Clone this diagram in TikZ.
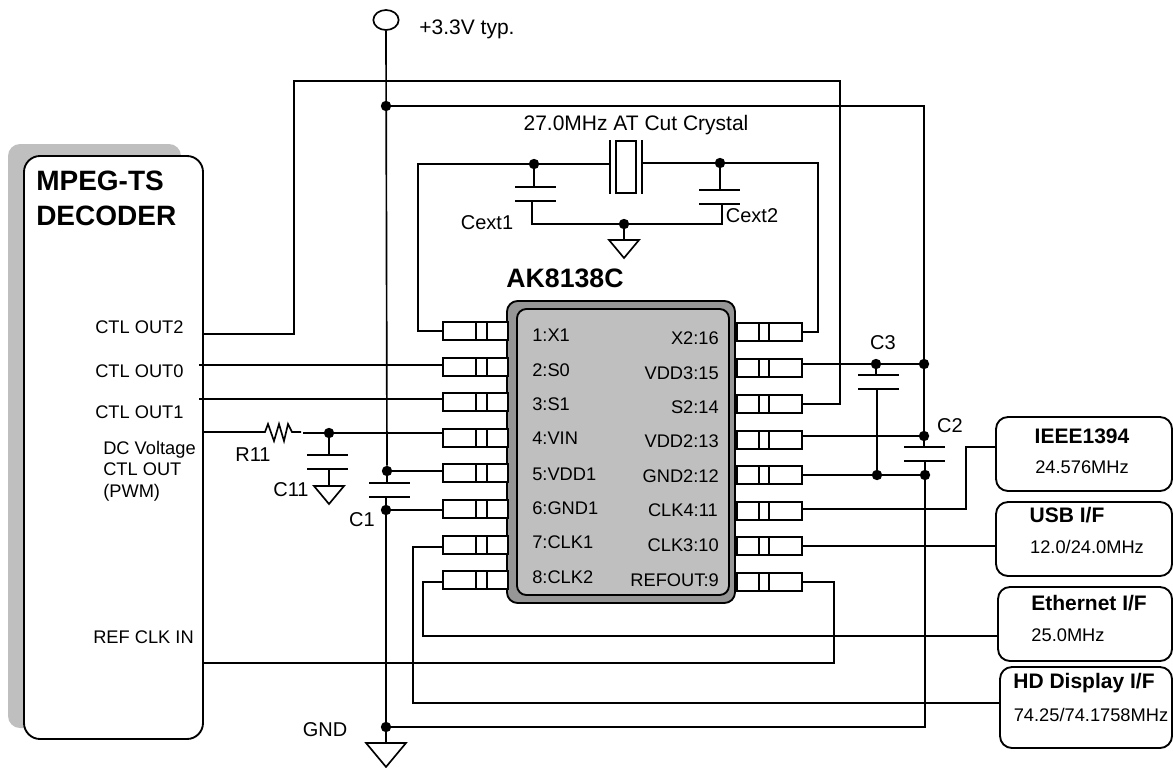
\documentclass[tikz,border=0pt]{standalone}
\usepackage{fontspec}
\setmainfont{Liberation Sans}
\usetikzlibrary{shapes.geometric}
\tikzset{draht/.style={line width=1.25pt}}
\tikzset{dick/.style={line width=1.7pt}}
\tikzset{punkt/.style={circle,fill=black,inner sep=0pt,minimum size=7.8pt}}
\tikzset{lab/.style={inner sep=0pt,font=\fontsize{15}{18}\selectfont}}
\tikzset{klein/.style={inner sep=0pt,font=\fontsize{13.7}{16}\selectfont}}
\tikzset{fett/.style={inner sep=0pt,font=\fontsize{15.75}{18}\selectfont\bfseries}}
\tikzset{gross/.style={inner sep=0pt,font=\fontsize{21}{26.25}\selectfont\bfseries}}
\tikzset{ifbox/.style={draw,line width=1.4pt,rounded corners=9pt,minimum height=55.5pt,inner sep=0pt}}
\tikzset{pinl/.style={draw,fill=white,line width=1.1pt,minimum width=48.75pt,minimum height=13.5pt,inner sep=0pt,
	path picture={\draw[line width=1.1pt] ([xshift=.4pt]path picture bounding box.south)--([xshift=.4pt]path picture bounding box.north);
	\draw[line width=1.1pt] ([xshift=8.6pt]path picture bounding box.south)--([xshift=8.6pt]path picture bounding box.north);}}}
\tikzset{pinr/.style={draw,fill=white,line width=1.1pt,minimum width=48.75pt,minimum height=13.5pt,inner sep=0pt,
	path picture={\draw[line width=1.1pt] ([xshift=-7.9pt]path picture bounding box.south)--([xshift=-7.9pt]path picture bounding box.north);
	\draw[line width=1.1pt] ([xshift=-.4pt]path picture bounding box.south)--([xshift=-.4pt]path picture bounding box.north);}}}
\tikzset{kond/.pic={\draw[draht] (-20,0)--(21,0);\draw[draht] (-20,14)--(21,14);}}
\tikzset{masse/.pic={\draw[draht] (-15,0)--(15,0)--(0,18)--cycle;}}
\begin{document}
\begin{tikzpicture}[x=0.75pt,y=-0.75pt]
	\useasboundingbox (0,0) rectangle (1173,767);

	% decoder
	\fill[gray!50!white,rounded corners=9pt] (8,144) rectangle (181,728);
	\node[draw,fill=white,line width=1.4pt,rounded corners=12pt,minimum width=134.25pt,minimum height=437.25pt,inner sep=0pt](mpeg) at (113.5,447.5){};
	\node[gross,align=left,anchor=north west](mpegtxt) at (36,171){MPEG-TS\\DECODER};
	\node[klein,anchor=west](ctl2) at (95,327){CTL OUT2};
	\node[klein,anchor=west](ctl0) at (95,371){CTL OUT0};
	\node[klein,anchor=west](ctl1) at (95,412){CTL OUT1};
	\node[klein,align=left,anchor=north west](ctldc) at (103,441){DC Voltage\\CTL OUT\\(PWM)};
	\node[klein,anchor=west](refin) at (93,637){REF CLK IN};

	% chip
	\node[draw,fill=black!41,line width=1.4pt,rounded corners=8pt,minimum width=171pt,minimum height=226.5pt,inner sep=0pt](chip) at (621,452){};
	\node[draw,fill=black!25,line width=1.4pt,rounded corners=7pt,minimum width=159pt,minimum height=214.5pt,inner sep=0pt](kern) at (623,452){};
	\node[gross,font=\fontsize{20}{24}\selectfont\bfseries](aktxt) at (565,278){AK8138C};

	\node[pinl](p1) at (475.5,331){};
	\node[pinl](p2) at (475.5,367){};
	\node[pinl](p3) at (475.5,402){};
	\node[pinl](p4) at (475.5,438){};
	\node[pinl](p5) at (475.5,473){};
	\node[pinl](p6) at (475.5,509){};
	\node[pinl](p7) at (475.5,545){};
	\node[pinl](p8) at (475.5,580){};
	\node[pinr](p16) at (769.5,332){};
	\node[pinr](p15) at (769.5,368){};
	\node[pinr](p14) at (769.5,404){};
	\node[pinr](p13) at (769.5,440){};
	\node[pinr](p12) at (769.5,475){};
	\node[pinr](p11) at (769.5,511){};
	\node[pinr](p10) at (769.5,546){};
	\node[pinr](p9) at (769.5,582){};

	\node[klein,anchor=west](n1) at (532,335){1:X1};
	\node[klein,anchor=west](n2) at (532,370){2:S0};
	\node[klein,anchor=west](n3) at (532,404){3:S1};
	\node[klein,anchor=west](n4) at (532,438){4:VIN};
	\node[klein,anchor=west](n5) at (532,474){5:VDD1};
	\node[klein,anchor=west](n6) at (532,508){6:GND1};
	\node[klein,anchor=west](n7) at (532,542){7:CLK1};
	\node[klein,anchor=west](n8) at (532,577){8:CLK2};
	\node[klein,anchor=east](n16) at (719,338){X2:16};
	\node[klein,anchor=east](n15) at (719,373){VDD3:15};
	\node[klein,anchor=east](n14) at (719,407){S2:14};
	\node[klein,anchor=east](n13) at (719,441){VDD2:13};
	\node[klein,anchor=east](n12) at (719,476){GND2:12};
	\node[klein,anchor=east](n11) at (718,510){CLK4:11};
	\node[klein,anchor=east](n10) at (719,545){CLK3:10};
	\node[klein,anchor=east](n9) at (719,580){REFOUT:9};

	% interface boxes
	\node[ifbox,minimum width=132pt](ieee) at (1084,454){};
	\node[ifbox,minimum width=132pt](usb) at (1084,539){};
	\node[ifbox,minimum width=130.5pt](eth) at (1085,624){};
	\node[ifbox,minimum width=129pt,minimum height=60.75pt](hd) at (1086,707.5){};
	\node[fett](ieeetxt) at (1082,436){IEEE1394};
	\node[klein](ieeef) at (1082,467){24.576MHz};
	\node[fett](usbtxt) at (1067,515){USB I/F};
	\node[klein](usbf) at (1087,547){12.0/24.0MHz};
	\node[fett](ethtxt) at (1089,603){Ethernet I/F};
	\node[klein](ethf) at (1068,635){25.0MHz};
	\node[fett](hdtxt) at (1084,683){HD Display I/F};
	\node[klein](hdf) at (1091,715){74.25/74.1758MHz};

	% junctions
	\node[draw,line width=1.25pt,ellipse,minimum width=19pt,minimum height=15pt,inner sep=0pt](vcc) at (386,20){};
	\node[punkt](ktop) at (386,106){};
	\node[punkt](k5) at (387,471){};
	\node[punkt](k6) at (386,510){};
	\node[punkt](kgnd) at (386,727){};
	\node[punkt](k11) at (329,433){};
	\node[punkt](kc1) at (534,164){};
	\node[punkt](kc2) at (720,163){};
	\node[punkt](kq) at (624,224){};
	\node[punkt](k3) at (876,364){};
	\node[punkt](k4) at (924,364){};
	\node[punkt](k7) at (924,436){};
	\node[punkt](k8) at (877,475){};
	\node[punkt](k9) at (925,475){};

	% crystal
	\node[draw,line width=1.1pt,minimum width=15pt,minimum height=39pt,inner sep=0pt](quarz) at (626,167){};
	\coordinate (qlinks) at (610,164);
	\coordinate (qrechts) at (642,163);
	\draw[draht] (qlinks|-quarz.north)--(qlinks|-quarz.south);
	\draw[draht] (qrechts|-quarz.north)--(qrechts|-quarz.south);
	\draw[draht] (p1.west)--++(-24,0)|-(qlinks);
	\draw[draht] (p16.east)--++(15,0)|-(qrechts);
	\draw[dick] (kc1)--++(0,23) pic[xshift=.75pt]{kond} ++(-2,14)|-(kq);
	\draw[dick] (kc2)--++(0,27) pic[xshift=-.75pt]{kond} ++(2,14)|-(kq);
	\draw[dick] (kq)--++(0,16) pic{masse};

	% supply
	\draw[draht] (vcc.south)--(k5);
	\draw[dick] (k5)--++(0,12) pic[xshift=1.5pt]{kond} ++(-1,14)--(k6)--(kgnd)--++(0,16) pic[scale=1.33]{masse};
	\draw[dick] (ktop)-|(k4)--(k7)--++(0,11) pic{kond} ++(1,14)--(k9)|-(kgnd);
	\draw[dick] (k3)--++(0,11) pic[xshift=1.5pt]{kond} ++(1,14)--(k8);
	\draw[dick] ([yshift=3pt]p15.east)--(k3)--(k4);
	\draw[dick] ([yshift=3pt]p13.east)--(k7);
	\draw[dick] (p12.east)--(k8)--(k9);
	\draw[draht] (k5)--([yshift=1.5pt]p5.west);
	\draw[dick] (k6)--([yshift=-.75pt]p6.west);

	% decoder wires
	\coordinate (m2) at (203,334);
	\coordinate (m0) at (199,365);
	\coordinate (m1) at (199,399);
	\coordinate (mdc) at (203,432);
	\coordinate (mref) at (203,663);
	\draw[draht] (m2)--++(91,0)--++(0,-253)--++(546,0)|-(p14.east);
	\draw[dick] (m0)--([yshift=1.5pt]p2.west);
	\draw[dick] (m1)--([yshift=2.25pt]p3.west);
	\draw[draht] (mdc)--(256,432)--(265,432)--(268,424)--(274,441)--(279,424)--(284,441)--(288,424)--(292,432)--(301,432);
	\draw[dick] (303,433)--(k11)--([yshift=3.75pt]p4.west);
	\draw[dick] (k11)--++(0,22) pic[xshift=-1.5pt]{kond} ++(0,14)--++(0,17) pic{masse};
	\draw[dick] (p9.east)--++(31,0)|-(mref);

	% clock wires
	\draw[draht] ([yshift=1.5pt]p11.east)--++(163,0)|-([yshift=5.25pt]ieee.west);
	\draw[draht] (p10.east)--(p10.east-|usb.west);
	\draw[draht] ([yshift=-1.5pt]p8.west)--++(-19,0)|-([yshift=-9pt]eth.west);
	\draw[draht] ([yshift=-1.5pt]p7.west)--++(-29,0)|-([yshift=3.4pt]hd.west);

	% labels
	\node[lab](vcctxt) at (467,29){\fontsize{15.75}{18}\selectfont +3.3V typ.};
	\node[lab](qtxt) at (636,125){\fontsize{15.75}{18}\selectfont 27.0MHz AT Cut Crystal};
	\node[lab](c1txt) at (487,223){Cext1};
	\node[lab](c2txt) at (752,216){Cext2};
	\node[lab](r11txt) at (253,455){R11};
	\node[lab](c11txt) at (291,490){C11};
	\node[lab](c1) at (362,520){C1};
	\node[lab](c3) at (883,343){C3};
	\node[lab](c2) at (950,426){C2};
	\node[lab](gndtxt) at (325,730){GND};
\end{tikzpicture}
\end{document}
